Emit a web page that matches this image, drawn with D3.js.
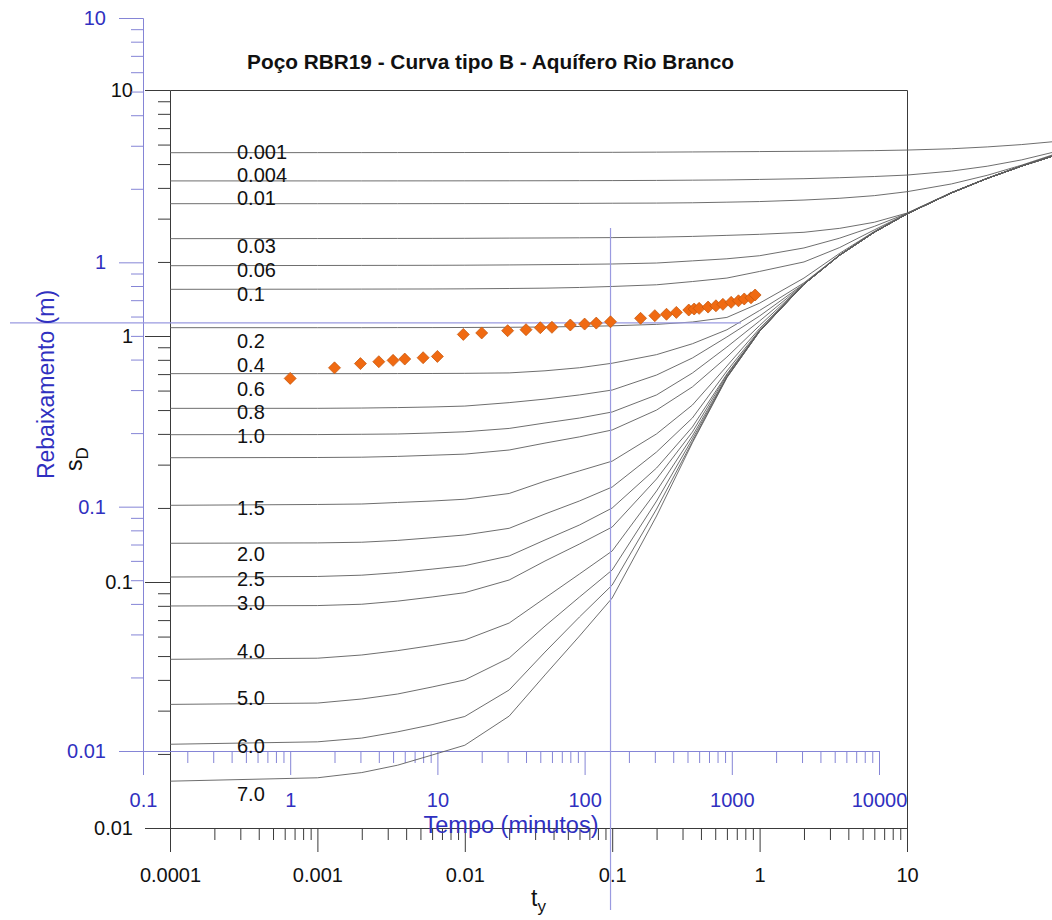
<!DOCTYPE html>
<html>
<head>
<meta charset="utf-8">
<script src="https://cdn.jsdelivr.net/npm/d3@7"></script>
<style>
  body { margin: 0; background: #fff; }
  svg { display: block; }
  text { font-family: "Liberation Sans", Arial, sans-serif; }
</style>
</head>
<body>
<svg id="chart" width="1052" height="920"></svg>
<script>
// Neuman type B curves: beta labels, the t_y grid and s_D values on that grid
const betaLabels = ["0.001", "0.004", "0.01", "0.03", "0.06", "0.1", "0.2", "0.4", "0.6", "0.8",
                    "1.0", "1.5", "2.0", "2.5", "3.0", "4.0", "5.0", "6.0", "7.0"];
const tyGrid = [1e-4, 1e-3, 2e-3, 3.5e-3, 6e-3, 1e-2, 2e-2, 3.5e-2, 6e-2, 0.1, 0.2, 0.35, 0.6,
                1, 2, 3.5, 6, 10, 20, 35, 60, 100];
const typeB = [
  [5.56, 5.565, 5.566, 5.567, 5.568, 5.57, 5.572, 5.575, 5.578, 5.58, 5.59, 5.60, 5.61, 5.62, 5.635, 5.65, 5.67, 5.70, 5.77, 5.87, 6.00, 6.17],
  [4.27, 4.27, 4.27, 4.271, 4.272, 4.273, 4.275, 4.277, 4.28, 4.283, 4.29, 4.30, 4.31, 4.33, 4.36, 4.40, 4.45, 4.51, 4.68, 4.90, 5.20, 5.60],
  [3.45, 3.45, 3.45, 3.451, 3.452, 3.453, 3.455, 3.458, 3.46, 3.465, 3.47, 3.48, 3.50, 3.52, 3.57, 3.63, 3.72, 3.86, 4.15, 4.50, 4.95, 5.48],
  [2.487, 2.49, 2.491, 2.492, 2.493, 2.495, 2.50, 2.503, 2.507, 2.512, 2.522, 2.54, 2.565, 2.59, 2.64, 2.74, 2.90, 3.16, 3.83, 4.38, 4.912, 5.42],
  [1.931, 1.935, 1.936, 1.937, 1.938, 1.94, 1.945, 1.95, 1.955, 1.962, 1.98, 2.02, 2.06, 2.12, 2.28, 2.50, 2.79, 3.15, 3.822, 4.375, 4.91, 5.42],
  [1.548, 1.55, 1.551, 1.552, 1.553, 1.555, 1.56, 1.565, 1.575, 1.59, 1.615, 1.665, 1.72, 1.83, 2.00, 2.29, 2.70, 3.145, 3.82, 4.373, 4.909, 5.418],
  [1.081, 1.081, 1.081, 1.082, 1.082, 1.083, 1.085, 1.088, 1.093, 1.10, 1.115, 1.14, 1.19, 1.36, 1.72, 2.17, 2.66, 3.14, 3.818, 4.372, 4.908, 5.417],
  [0.703, 0.703, 0.703, 0.7035, 0.704, 0.705, 0.708, 0.722, 0.743, 0.775, 0.84, 0.93, 1.06, 1.27, 1.645, 2.14, 2.645, 3.138, 3.817, 4.372, 4.908, 5.417],
  [0.508, 0.5082, 0.5095, 0.5117, 0.5146, 0.519, 0.536, 0.554, 0.576, 0.603, 0.694, 0.814, 0.991, 1.206, 1.63, 2.135, 2.643, 3.137, 3.817, 4.372, 4.908, 5.417],
  [0.397, 0.3975, 0.3985, 0.3997, 0.4034, 0.408, 0.421, 0.443, 0.464, 0.491, 0.576, 0.707, 0.902, 1.151, 1.626, 2.133, 2.642, 3.137, 3.817, 4.372, 4.908, 5.417],
  [0.320, 0.3207, 0.3216, 0.3240, 0.3276, 0.331, 0.344, 0.367, 0.389, 0.415, 0.500, 0.621, 0.821, 1.103, 1.625, 2.133, 2.642, 3.137, 3.817, 4.372, 4.908, 5.417],
  [0.205, 0.2066, 0.2075, 0.2105, 0.2134, 0.217, 0.229, 0.257, 0.283, 0.310, 0.400, 0.524, 0.755, 1.073, 1.624, 2.132, 2.642, 3.137, 3.817, 4.372, 4.908, 5.417],
  [0.1437, 0.1442, 0.1451, 0.1476, 0.1514, 0.1553, 0.1653, 0.189, 0.2135, 0.2433, 0.3377, 0.4642, 0.7206, 1.058, 1.624, 2.132, 2.642, 3.137, 3.817, 4.372, 4.908, 5.417],
  [0.1048, 0.1053, 0.1066, 0.1092, 0.1128, 0.1165, 0.1276, 0.1482, 0.1705, 0.1999, 0.2907, 0.4267, 0.7006, 1.050, 1.624, 2.132, 2.642, 3.137, 3.817, 4.372, 4.908, 5.417],
  [0.0799, 0.0802, 0.0812, 0.0836, 0.0869, 0.0905, 0.1019, 0.1217, 0.1427, 0.1673, 0.2623, 0.4072, 0.6942, 1.048, 1.624, 2.132, 2.642, 3.137, 3.817, 4.372, 4.908, 5.417],
  [0.0485, 0.0490, 0.0505, 0.0526, 0.0552, 0.0581, 0.0681, 0.0861, 0.1078, 0.1337, 0.2344, 0.3923, 0.6845, 1.046, 1.624, 2.132, 2.642, 3.137, 3.817, 4.372, 4.908, 5.417],
  [0.0318, 0.0322, 0.03345, 0.03505, 0.03743, 0.0400, 0.0491, 0.0662, 0.0869, 0.1119, 0.2134, 0.3814, 0.6812, 1.045, 1.624, 2.132, 2.642, 3.137, 3.817, 4.372, 4.908, 5.417],
  [0.0219, 0.0224, 0.0232, 0.0246, 0.0263, 0.0284, 0.0364, 0.0519, 0.0721, 0.0972, 0.198, 0.3725, 0.6787, 1.044, 1.624, 2.132, 2.642, 3.137, 3.817, 4.372, 4.908, 5.417],
  [0.0155, 0.0160, 0.0168, 0.0180, 0.0198, 0.0217, 0.0285, 0.0419, 0.0603, 0.0861, 0.1855, 0.368, 0.6768, 1.044, 1.624, 2.132, 2.642, 3.137, 3.817, 4.372, 4.908, 5.417]
];
// s_D level at which each beta label is written
const betaLabelLevel = [5.60, 4.51, 3.64, 2.32, 1.855, 1.48, 0.954, 0.762, 0.609, 0.491, 0.392,
                        0.200, 0.130, 0.1028, 0.0821, 0.0524, 0.0338, 0.0215, 0.01374];

// Pumping test RBR19: time (min) and drawdown (m)
const timeMin = [1, 2, 3, 4, 5, 6, 8, 10, 15, 20, 30, 40, 50, 60, 80, 100, 120, 150,
                 240, 300, 360, 420, 510, 555, 600, 690, 780, 870, 990, 1110, 1215, 1350, 1440];
const drawdownM = [0.335, 0.370, 0.385, 0.392, 0.397, 0.402, 0.407, 0.412, 0.507, 0.514, 0.525, 0.530,
                   0.540, 0.542, 0.554, 0.559, 0.564, 0.571, 0.590, 0.605, 0.613, 0.624, 0.638, 0.644,
                   0.648, 0.656, 0.664, 0.673, 0.686, 0.696, 0.708, 0.716, 0.735];

// Match point (field units)
const matchTime = 150;
const matchDrawdown = 0.565;

// Tick values and labels
const tyTicks = [1e-4, 1e-3, 1e-2, 0.1, 1, 10];
const tyTickLabels = ["0.0001", "0.001", "0.01", "0.1", "1", "10"];
const sDTicks = [0.01, 0.1, 1, 10];
const sDTickLabels = ["0.01", "0.1", "1", "10"];
const timeTicks = [0.1, 1, 10, 100, 1000, 10000];
const timeTickLabels = ["0.1", "1", "10", "100", "1000", "10000"];
const drawdownTicks = [0.01, 0.1, 1, 10];
const drawdownTickLabels = ["0.01", "0.1", "1", "10"];

// ---------------------------------------------------------------
const svg = d3.select("#chart");
const BLACK = "#3a3a3a";
const CURVE = "#5e5e5e";
const BLUE_LINE = "#8585d6";
const BLUE_TEXT = "#3030c0";
const FS = 20;

// type-curve (dimensionless) scales
const tyScale = d3.scaleLog().domain([1e-4, 10]).range([170, 907]);
const sDScale = d3.scaleLog().domain([0.01, 10]).range([828, 90]);
// field-data scales
const tScale = d3.scaleLog().domain([0.1, 10000]).range([143, 879]);
const sScale = d3.scaleLog().domain([0.01, 10]).range([751, 18]);

function minorTicks(lo, hi) {
  const out = [];
  for (let d = lo; d < hi * 0.999; d *= 10)
    for (let k = 2; k <= 9; k++) out.push(+(d * k).toPrecision(3));
  return out;
}

function styleAxis(g, color, textColor) {
  g.attr("font-family", null).attr("font-size", null);
  g.selectAll("path.domain").attr("stroke", color).attr("stroke-width", 1);
  g.selectAll(".tick line").attr("stroke", color).attr("stroke-width", 1);
  g.selectAll(".tick text").attr("fill", textColor).style("font-size", FS + "px");
}

function addAxis(axis, transform, color, textColor) {
  const g = svg.append("g").attr("transform", transform).call(axis);
  styleAxis(g, color, textColor);
  return g;
}

// ---- black axes (t_y, s_D)
addAxis(d3.axisBottom(tyScale).tickValues(minorTicks(1e-4, 10)).tickSize(12).tickSizeOuter(0).tickFormat(""),
        "translate(0,828)", BLACK, "#111");
addAxis(d3.axisBottom(tyScale).tickValues(tyTicks).tickSize(24).tickSizeOuter(0).tickPadding(16)
          .tickFormat((d, i) => tyTickLabels[i]),
        "translate(0,828)", BLACK, "#111");
addAxis(d3.axisLeft(sDScale).tickValues(minorTicks(0.01, 10)).tickSize(12).tickSizeOuter(0).tickFormat(""),
        "translate(170,0)", BLACK, "#111");
addAxis(d3.axisLeft(sDScale).tickValues(sDTicks).tickSize(25).tickSizeOuter(0).tickPadding(12)
          .tickFormat((d, i) => sDTickLabels[i]),
        "translate(170,0)", BLACK, "#111");
// frame: top and right edges
addAxis(d3.axisTop(tyScale).tickValues([]).tickSizeOuter(0), "translate(0,90)", BLACK, "#111");
addAxis(d3.axisRight(sDScale).tickValues([]).tickSizeOuter(0), "translate(907,0)", BLACK, "#111");

// ---- blue axes (time, drawdown)
addAxis(d3.axisBottom(tScale).tickValues(minorTicks(0.1, 10000)).tickSize(12).tickSizeOuter(0).tickFormat(""),
        "translate(0,751)", BLUE_LINE, BLUE_TEXT);
addAxis(d3.axisBottom(tScale).tickValues(timeTicks).tickSize(24).tickSizeOuter(0).tickPadding(18)
          .tickFormat((d, i) => timeTickLabels[i]),
        "translate(0,751)", BLUE_LINE, BLUE_TEXT);
addAxis(d3.axisLeft(sScale).tickValues(minorTicks(0.01, 10)).tickSize(12).tickSizeOuter(0).tickFormat(""),
        "translate(143,0)", BLUE_LINE, BLUE_TEXT);
addAxis(d3.axisLeft(sScale).tickValues(drawdownTicks).tickSize(24).tickSizeOuter(0).tickPadding(13)
          .tickFormat((d, i) => drawdownTickLabels[i]),
        "translate(143,0)", BLUE_LINE, BLUE_TEXT);

// ---- type B curves
const line = d3.line().x(d => tyScale(d[0])).y(d => sDScale(d[1]));
svg.append("g").selectAll("path")
  .data(typeB)
  .join("path")
  .attr("d", vals => line(vals.map((v, i) => [tyGrid[i], v])))
  .attr("fill", "none")
  .attr("stroke", CURVE)
  .attr("stroke-width", 0.9);

// beta labels
svg.append("g").selectAll("text")
  .data(betaLabels)
  .join("text")
  .attr("x", 237)
  .attr("y", (d, i) => sDScale(betaLabelLevel[i]))
  .attr("dy", "0.35em")
  .style("font-size", FS + "px")
  .attr("fill", "#111")
  .text(d => d);

// ---- match-point cross
const mx = tScale(matchTime), my = sScale(matchDrawdown);
svg.append("line").attr("x1", mx).attr("x2", mx).attr("y1", 228).attr("y2", 910)
  .attr("stroke", "#9a9ae0").attr("stroke-width", 1.2);
svg.append("line").attr("x1", 10).attr("x2", 741).attr("y1", my).attr("y2", my)
  .attr("stroke", "#9a9ae0").attr("stroke-width", 1.2);

// ---- field data
const diamond = d3.symbol().type(d3.symbolSquare).size(72);
svg.append("g").selectAll("path")
  .data(timeMin.map((t, i) => [t, drawdownM[i]]))
  .join("path")
  .attr("d", diamond)
  .attr("transform", d => `translate(${tScale(d[0])},${sScale(d[1])}) rotate(45)`)
  .attr("fill", "#f06a12")
  .attr("stroke", "#c4560e")
  .attr("stroke-width", 0.7);

// ---- titles
svg.append("text").attr("x", 490.5).attr("y", 69).attr("text-anchor", "middle")
  .style("font-size", "20.8px").style("font-weight", "bold").attr("fill", "#111")
  .text("Poço RBR19 - Curva tipo B - Aquífero Rio Branco");

svg.append("text").attr("x", (143 + 879) / 2).attr("y", 833).attr("text-anchor", "middle")
  .style("font-size", "23.5px").attr("fill", BLUE_TEXT).text("Tempo (minutos)");

svg.append("text").attr("transform", `translate(54,${(18 + 751) / 2}) rotate(-90)`)
  .attr("text-anchor", "middle").style("font-size", "23px").attr("fill", BLUE_TEXT)
  .text("Rebaixamento (m)");

const tyTitle = svg.append("text").attr("x", (170 + 907) / 2).attr("y", 906).attr("text-anchor", "middle")
  .style("font-size", "23px").attr("fill", "#111");
tyTitle.append("tspan").text("t");
tyTitle.append("tspan").attr("dy", 6).style("font-size", "17px").text("y");

const sDTitle = svg.append("text").attr("transform", `translate(82,${(90 + 828) / 2}) rotate(-90)`)
  .attr("text-anchor", "middle").style("font-size", "23px").attr("fill", "#111");
sDTitle.append("tspan").text("s");
sDTitle.append("tspan").attr("dy", 6).style("font-size", "17px").text("D");
</script>
</body>
</html>
